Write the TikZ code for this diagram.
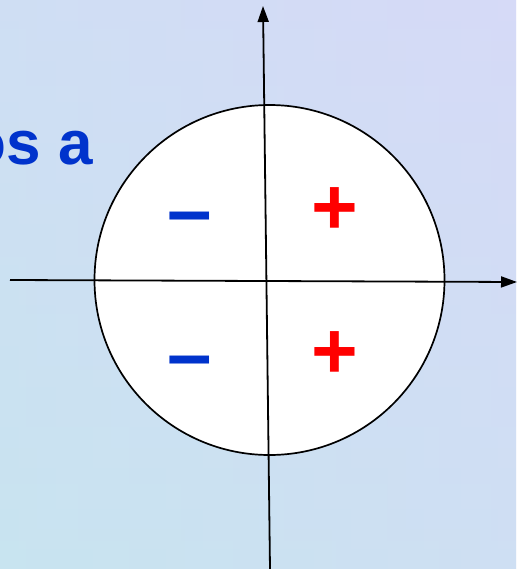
\documentclass[tikz,border=0pt]{standalone}
\usepackage{fontspec}
\setmainfont{Liberation Sans}
\usetikzlibrary{arrows.meta}

\definecolor{signblue}{RGB}{0,51,204}
\definecolor{signred}{RGB}{255,0,0}
\definecolor{bgcyan}{RGB}{200,228,240}
\definecolor{bglilac}{RGB}{214,218,247}

\tikzset{
    axis/.style={line width=1.8pt, -{Triangle[width=11pt,length=16pt]}},
    sign/.style={font=\fontsize{80}{80}\selectfont\bfseries, inner sep=0pt},
}

\begin{document}
\begin{tikzpicture}[x=1pt, y=-1pt]
    % Background
    \useasboundingbox (0,0) rectangle (516,569);
    \shade[left color=bgcyan, right color=bglilac] (0,0) rectangle (516,569);
    \shade[top color=bglilac, bottom color=bgcyan, opacity=0.5] (0,0) rectangle (516,569);

    % Heading fragment
    \node[anchor=base east, text=signblue, inner sep=0pt,
          font=\fontsize{62}{62}\selectfont\bfseries] (head) at (93,165) {os a};

    % Disc
    \node[draw, circle, fill=white, line width=1.7pt, minimum size=350pt] (disc) at (269.5,280) {};

    % Axes
    \coordinate (xl) at (10,280);
    \coordinate (xr) at (517,282);
    \coordinate (yb) at (270,569);
    \coordinate (yt) at (263,6);
    \draw[axis] (xl) -- (xr);
    \draw[axis] (yb) -- (yt);

    % Signs
    \node[sign, text=signblue] (mtop) at (190,225) {–};
    \node[sign, text=signblue] (mbot) at (190,369) {–};
    \node[sign, text=signred]  (ptop) at (335,211) {+};
    \node[sign, text=signred]  (pbot) at (335,355) {+};
\end{tikzpicture}
\end{document}
